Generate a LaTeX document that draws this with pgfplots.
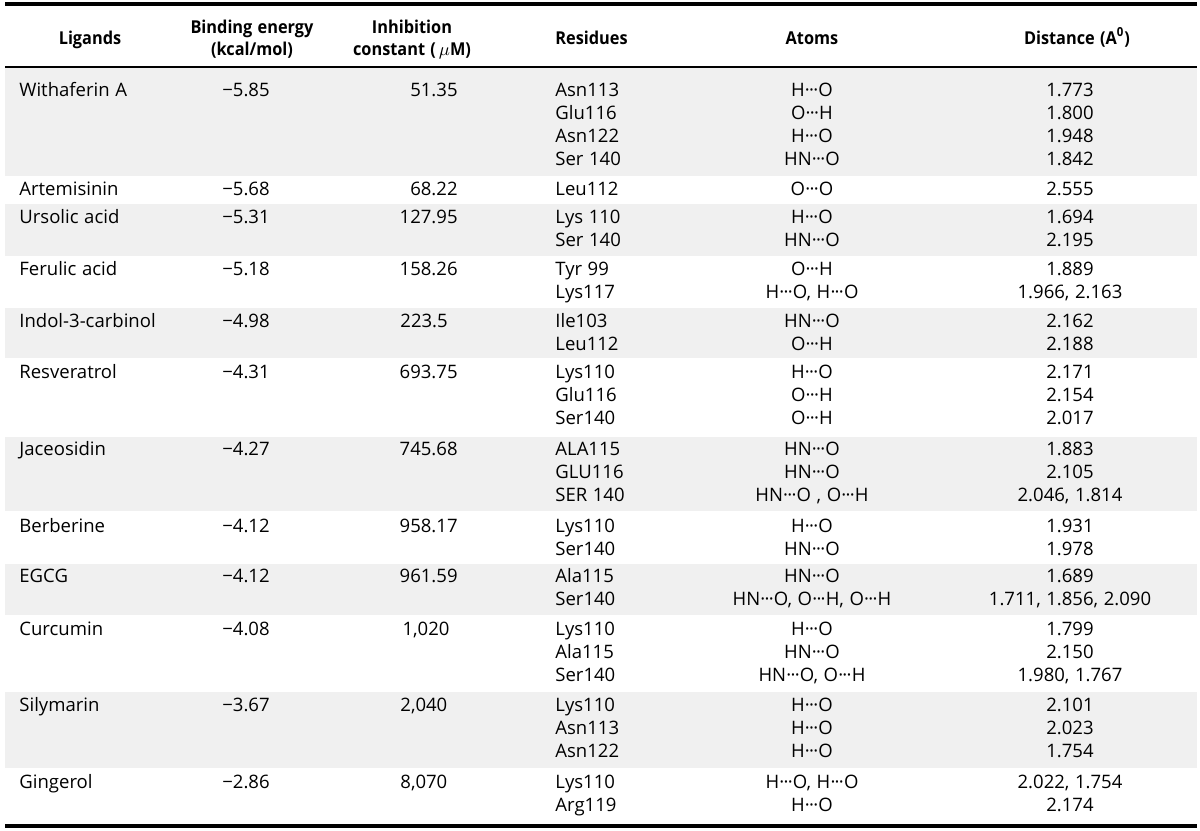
\documentclass[border=0pt]{standalone}
\usepackage{fontspec}
\setmainfont{Open Sans}
\newfontfamily\hdfont[FakeStretch=0.92]{Open Sans}
\usepackage{pgfplots}
\pgfplotsset{compat=1.18}
\definecolor{band}{RGB}{240,240,240}
\newcommand\dd{\kern0.01em·\kern-0.04em·\kern-0.04em·\kern0.01em}
\newcommand\Sp{\hspace{0.3em}}
\newcommand\fs{\fontsize{9.3}{10}\selectfont}
\tikzset{
  tL/.style={anchor=mid west, inner sep=0pt, font=\fs},
  tC/.style={anchor=mid, inner sep=0pt, font=\fs},
  tR/.style={anchor=mid east, inner sep=0pt, font=\fs},
  tH/.style={anchor=mid, inner sep=0pt, font=\hdfont\fontsize{8.9}{10}\selectfont\bfseries}}
\begin{document}
\begin{tikzpicture}
\begin{axis}[scale only axis, width=600bp, height=415.5bp,
  xmin=0, xmax=1200, ymin=0, ymax=831, y dir=reverse, hide axis, clip=false]
% frame for bounding box
\addplot[draw=none] coordinates {(0,0) (1200,831)};
% shaded bands
\addplot[fill=band, draw=none] coordinates {(5,67) (1197,67) (1197,176) (5,176)};
\addplot[fill=band, draw=none] coordinates {(5,204) (1197,204) (1197,256) (5,256)};
\addplot[fill=band, draw=none] coordinates {(5,308) (1197,308) (1197,358) (5,358)};
\addplot[fill=band, draw=none] coordinates {(5,437) (1197,437) (1197,511) (5,511)};
\addplot[fill=band, draw=none] coordinates {(5,564) (1197,564) (1197,615) (5,615)};
\addplot[fill=band, draw=none] coordinates {(5,692) (1197,692) (1197,768) (5,768)};
% rules
\addplot[black, line width=1.6bp] coordinates {(5,4) (1197,4)};
\addplot[black, line width=0.6bp] coordinates {(5,67) (1197,67)};
\addplot[black, line width=1.6bp] coordinates {(5,826) (1197,826)};
% header
\node[tH] at (axis cs:90,39) {Ligands};
\node[tH] at (axis cs:252,28) {Binding\Sp energy};
\node[tH] at (axis cs:252,50) {(kcal/mol)};
\node[tH] at (axis cs:412,28) {Inhibition};
\node[tH] at (axis cs:412,50) {constant\Sp(\,$\mu$M)};
\node[tH, anchor=mid west] at (axis cs:555,39) {Residues};
\node[tH] at (axis cs:812,39) {Atoms};
\node[tH] at (axis cs:1077,39) {Distance\Sp(A\textsuperscript{0})};
% ligands
\node[tL] at (axis cs:19,91) {Withaferin\Sp A};
\node[tL] at (axis cs:19,190) {Artemisinin};
\node[tL] at (axis cs:19,218) {Ursolic\Sp acid};
\node[tL] at (axis cs:19,270) {Ferulic\Sp acid};
\node[tL] at (axis cs:19,322) {Indol-3-carbinol};
\node[tL] at (axis cs:19,373) {Resveratrol};
\node[tL] at (axis cs:19,450) {Jaceosidin};
\node[tL] at (axis cs:19,527) {Berberine};
\node[tL] at (axis cs:19,577) {EGCG};
\node[tL] at (axis cs:19,630) {Curcumin};
\node[tL] at (axis cs:19,706) {Silymarin};
\node[tL] at (axis cs:19,783) {Gingerol};
% binding energy
\node[tC] at (axis cs:246,91) {−5.85};
\node[tC] at (axis cs:246,190) {−5.68};
\node[tC] at (axis cs:246,218) {−5.31};
\node[tC] at (axis cs:246,270) {−5.18};
\node[tC] at (axis cs:246,322) {−4.98};
\node[tC] at (axis cs:246,373) {−4.31};
\node[tC] at (axis cs:246,450) {−4.27};
\node[tC] at (axis cs:246,527) {−4.12};
\node[tC] at (axis cs:246,577) {−4.12};
\node[tC] at (axis cs:246,630) {−4.08};
\node[tC] at (axis cs:246,706) {−3.67};
\node[tC] at (axis cs:246,783) {−2.86};
% inhibition constant
\node[tR] at (axis cs:458,91) {51.35};
\node[tR] at (axis cs:458,190) {68.22};
\node[tR] at (axis cs:458,218) {127.95};
\node[tR] at (axis cs:458,270) {158.26};
\node[tL] at (axis cs:400,322) {223.5};
\node[tR] at (axis cs:458,373) {693.75};
\node[tR] at (axis cs:458,450) {745.68};
\node[tR] at (axis cs:458,527) {958.17};
\node[tR] at (axis cs:458,577) {961.59};
\node[tC] at (axis cs:426,630) {1,020};
\node[tL] at (axis cs:400,706) {2,040};
\node[tL] at (axis cs:400,783) {8,070};
% residues
\node[tL] at (axis cs:555,91) {Asn113};
\node[tL] at (axis cs:555,114) {Glu116};
\node[tL] at (axis cs:555,137) {Asn122};
\node[tL] at (axis cs:555,160) {Ser\Sp 140};
\node[tL] at (axis cs:555,190) {Leu112};
\node[tL] at (axis cs:555,218) {Lys\Sp 110};
\node[tL] at (axis cs:555,241) {Ser\Sp 140};
\node[tL] at (axis cs:555,270) {Tyr\Sp 99};
\node[tL] at (axis cs:555,293) {Lys117};
\node[tL] at (axis cs:555,322) {Ile103};
\node[tL] at (axis cs:555,345) {Leu112};
\node[tL] at (axis cs:555,373) {Lys110};
\node[tL] at (axis cs:555,396) {Glu116};
\node[tL] at (axis cs:555,419) {Ser140};
\node[tL] at (axis cs:555,450) {ALA115};
\node[tL] at (axis cs:555,473) {GLU116};
\node[tL] at (axis cs:555,496) {SER\Sp 140};
\node[tL] at (axis cs:555,527) {Lys110};
\node[tL] at (axis cs:555,550) {Ser140};
\node[tL] at (axis cs:555,577) {Ala115};
\node[tL] at (axis cs:555,600) {Ser140};
\node[tL] at (axis cs:555,630) {Lys110};
\node[tL] at (axis cs:555,653) {Ala115};
\node[tL] at (axis cs:555,676) {Ser140};
\node[tL] at (axis cs:555,706) {Lys110};
\node[tL] at (axis cs:555,729) {Asn113};
\node[tL] at (axis cs:555,752) {Asn122};
\node[tL] at (axis cs:555,783) {Lys110};
\node[tL] at (axis cs:555,806) {Arg119};
% atoms
\node[tC] at (axis cs:812,91) {H\dd O};
\node[tC] at (axis cs:812,114) {O\dd H};
\node[tC] at (axis cs:812,137) {H\dd O};
\node[tC] at (axis cs:812,160) {HN\dd O};
\node[tC] at (axis cs:812,190) {O\dd O};
\node[tC] at (axis cs:812,218) {H\dd O};
\node[tC] at (axis cs:812,241) {HN\dd O};
\node[tC] at (axis cs:812,270) {O\dd H};
\node[tC] at (axis cs:812,293) {H\dd O,\Sp H\dd O};
\node[tC] at (axis cs:812,322) {HN\dd O};
\node[tC] at (axis cs:812,345) {O\dd H};
\node[tC] at (axis cs:812,373) {H\dd O};
\node[tC] at (axis cs:812,396) {O\dd H};
\node[tC] at (axis cs:812,419) {O\dd H};
\node[tC] at (axis cs:812,450) {HN\dd O};
\node[tC] at (axis cs:812,473) {HN\dd O};
\node[tC] at (axis cs:812,496) {HN\dd O\Sp,\Sp O\dd H};
\node[tC] at (axis cs:812,527) {H\dd O};
\node[tC] at (axis cs:812,550) {HN\dd O};
\node[tC] at (axis cs:812,577) {HN\dd O};
\node[tC] at (axis cs:812,600) {HN\dd O,\Sp O\dd H,\Sp O\dd H};
\node[tC] at (axis cs:812,630) {H\dd O};
\node[tC] at (axis cs:812,653) {HN\dd O};
\node[tC] at (axis cs:812,676) {HN\dd O,\Sp O\dd H};
\node[tC] at (axis cs:812,706) {H\dd O};
\node[tC] at (axis cs:812,729) {H\dd O};
\node[tC] at (axis cs:812,752) {H\dd O};
\node[tC] at (axis cs:812,783) {H\dd O,\Sp H\dd O};
\node[tC] at (axis cs:812,806) {H\dd O};
% distances
\node[tC] at (axis cs:1070,91) {1.773};
\node[tC] at (axis cs:1070,114) {1.800};
\node[tC] at (axis cs:1070,137) {1.948};
\node[tC] at (axis cs:1070,160) {1.842};
\node[tC] at (axis cs:1070,190) {2.555};
\node[tC] at (axis cs:1070,218) {1.694};
\node[tC] at (axis cs:1070,241) {2.195};
\node[tC] at (axis cs:1070,270) {1.889};
\node[tC] at (axis cs:1070,293) {1.966,\Sp 2.163};
\node[tC] at (axis cs:1070,322) {2.162};
\node[tC] at (axis cs:1070,345) {2.188};
\node[tC] at (axis cs:1070,373) {2.171};
\node[tC] at (axis cs:1070,396) {2.154};
\node[tC] at (axis cs:1070,419) {2.017};
\node[tC] at (axis cs:1070,450) {1.883};
\node[tC] at (axis cs:1070,473) {2.105};
\node[tC] at (axis cs:1070,496) {2.046,\Sp 1.814};
\node[tC] at (axis cs:1070,527) {1.931};
\node[tC] at (axis cs:1070,550) {1.978};
\node[tC] at (axis cs:1070,577) {1.689};
\node[tC] at (axis cs:1070,600) {1.711,\Sp 1.856,\Sp 2.090};
\node[tC] at (axis cs:1070,630) {1.799};
\node[tC] at (axis cs:1070,653) {2.150};
\node[tC] at (axis cs:1070,676) {1.980,\Sp 1.767};
\node[tC] at (axis cs:1070,706) {2.101};
\node[tC] at (axis cs:1070,729) {2.023};
\node[tC] at (axis cs:1070,752) {1.754};
\node[tC] at (axis cs:1070,783) {2.022,\Sp 1.754};
\node[tC] at (axis cs:1070,806) {2.174};
\end{axis}
\end{tikzpicture}
\end{document}
